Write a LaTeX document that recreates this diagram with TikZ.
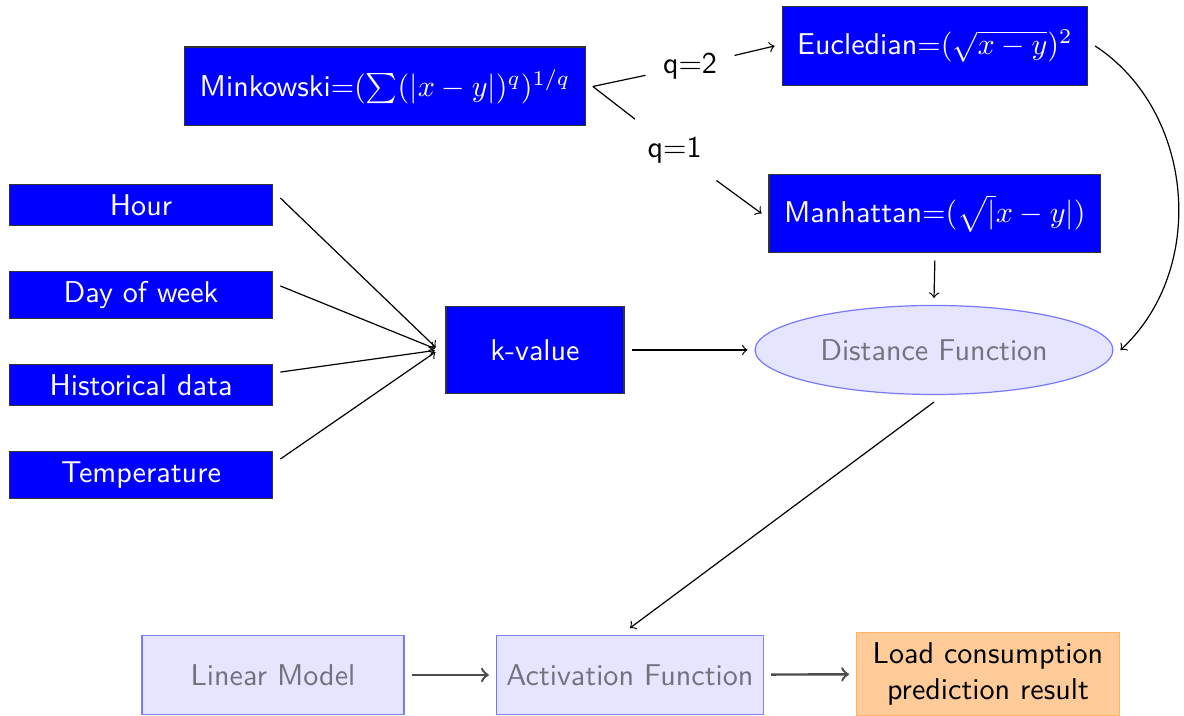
\documentclass[tikz,border=0pt]{standalone}
\usetikzlibrary{shapes.geometric}

\begin{document}
\begin{tikzpicture}[font=\sffamily, every node/.style={outer sep=2.5pt},
    bluebox/.style={draw=black!80, fill=blue, text=white},
    formula/.style={bluebox, minimum height=0.92cm, inner xsep=5pt},
    inbox/.style={bluebox, minimum width=3.08cm},
    fadebox/.style={draw=blue, fill=blue!20, opacity=0.5, minimum width=3.06cm, minimum height=0.92cm}]
    \useasboundingbox (0, 0) rectangle (13.83, -8.363);

    \node[formula] (mink) at (4.497, -1.010) {Minkowski$\mathord{=}(\sum(|x-y|)^q)^{1/q}$};
    \node[formula] (eucl) at (10.92, -0.537) {Eucledian$\mathord{=}(\sqrt{x-y})^2$};
    \node[formula] (manh) at (10.92, -2.494) {Manhattan$\mathord{=}(\sqrt|x-y|)$};
    \node (qtwo) at (8.06, -0.77) {q=2};
    \node (qone) at (7.88, -1.75) {q=1};

    \foreach \n/\t/\y in {hour/Hour/-2.394, day/Day of week/-3.446, hist/Historical data/-4.497, temp/Temperature/-5.548}
        \node[inbox] (\n) at (1.647, \y) {\t};

    \node[bluebox, minimum width=2.08cm, minimum height=1.02cm] (kval) at (6.249, -4.088) {k-value};
    \node[ellipse, draw=blue, fill=blue!20, opacity=0.5, minimum width=4.18cm, minimum height=1.04cm] (dist) at (10.91, -4.088) {Distance Function};

    \node[fadebox] (lin) at (3.189, -7.884) {Linear Model};
    \node[fadebox] (act) at (7.358, -7.884) {Activation Function};
    \node[draw=orange!60, fill=orange!40, align=center, minimum width=3.07cm] (load) at (11.54, -7.872) {Load consumption\\prediction result};

    \draw (mink.east) -- (qtwo);
    \draw[->] (qtwo) -- (eucl.west);
    \draw (mink.east) -- (qone);
    \draw[->] (qone) -- (manh.west);
    \draw[->] (eucl.east) to[bend left=52] (dist.east);
    \draw[->] (manh.south) -- (dist.north);

    \foreach \n/\dy in {hour/2.3, day/3, hist/4.3, temp/5.3}
        \draw[->, shorten >=1.2pt] ([yshift=\dy pt]\n.east) -- (kval.west);

    \draw[->] (kval) -- (dist);
    \draw[->] (dist.south) -- (act.north);
    \draw[->, thick, black!70] (lin) -- (act);
    \draw[->, thick, black!70] (act) -- (load);

\end{tikzpicture}
\end{document}
